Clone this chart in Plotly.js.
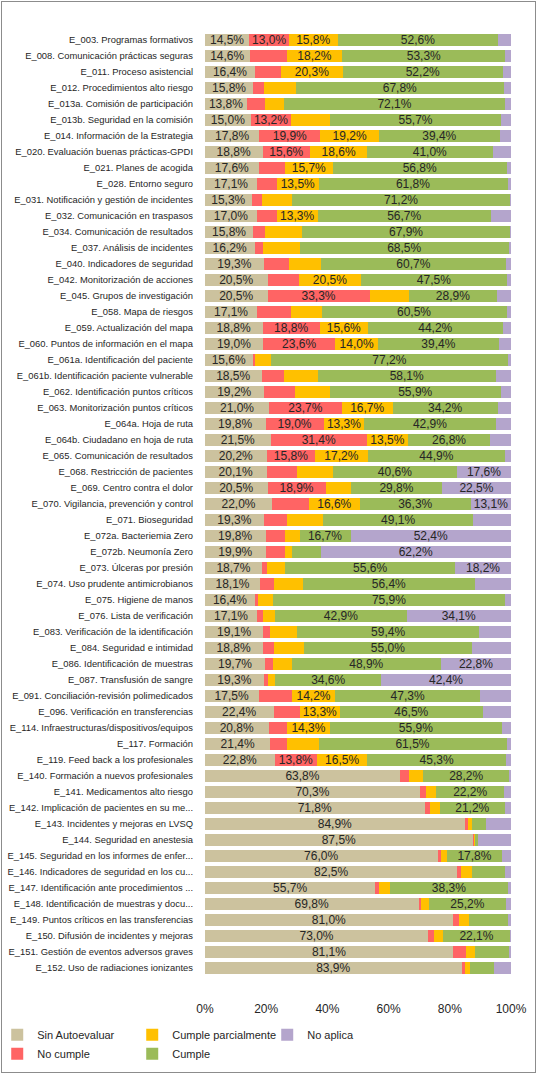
<!DOCTYPE html>
<html>
<head>
<meta charset="utf-8">
<script src="https://cdn.plot.ly/plotly-3.0.1.min.js"></script>
<style>
  body { margin: 0; background: #fff; }
  #wrap { position: relative; width: 537px; height: 1074px; }
  #plotly { width: 537px; height: 1074px; }
  #frame { position: absolute; left: 1px; top: 1px; width: 535px; height: 1072px;
           box-sizing: border-box; border: 1px solid #8c8c8c; pointer-events: none; }
</style>
</head>
<body>
<div id="wrap"><div id="plotly"></div><div id="frame"></div></div>
<script>
var categories = [
  "E_003. Programas formativos",
  "E_008. Comunicación prácticas seguras",
  "E_011. Proceso asistencial",
  "E_012. Procedimientos alto riesgo",
  "E_013a. Comisión de participación",
  "E_013b. Seguridad en la comisión",
  "E_014. Información de la Estrategia",
  "E_020. Evaluación buenas prácticas-GPDI",
  "E_021. Planes de acogida",
  "E_028. Entorno seguro",
  "E_031. Notificación y gestión de incidentes",
  "E_032. Comunicación en traspasos",
  "E_034. Comunicación de resultados",
  "E_037. Análisis de incidentes",
  "E_040. Indicadores de seguridad",
  "E_042. Monitorización de acciones",
  "E_045. Grupos de investigación",
  "E_058. Mapa de riesgos",
  "E_059. Actualización del mapa",
  "E_060. Puntos de información en el mapa",
  "E_061a. Identificación del paciente",
  "E_061b. Identificación paciente vulnerable",
  "E_062. Identificación puntos críticos",
  "E_063. Monitorización puntos críticos",
  "E_064a. Hoja de ruta",
  "E_064b. Ciudadano en hoja de ruta",
  "E_065. Comunicación de resultados",
  "E_068. Restricción de pacientes",
  "E_069. Centro contra el dolor",
  "E_070. Vigilancia, prevención y control",
  "E_071. Bioseguridad",
  "E_072a. Bacteriemia Zero",
  "E_072b. Neumonía Zero",
  "E_073. Úlceras por presión",
  "E_074. Uso prudente antimicrobianos",
  "E_075. Higiene de manos",
  "E_076. Lista de verificación",
  "E_083. Verificación de la identificación",
  "E_084. Seguridad e intimidad",
  "E_086. Identificación de muestras",
  "E_087. Transfusión de sangre",
  "E_091. Conciliación-revisión polimedicados",
  "E_096. Verificación en transferencias",
  "E_114. Infraestructuras/dispositivos/equipos",
  "E_117. Formación",
  "E_119. Feed back a los profesionales",
  "E_140. Formación a nuevos profesionales",
  "E_141. Medicamentos alto riesgo",
  "E_142. Implicación de pacientes en su me...",
  "E_143. Incidentes y mejoras en LVSQ",
  "E_144. Seguridad en anestesia",
  "E_145. Seguridad en los informes de enfer...",
  "E_146. Indicadores de seguridad en los cu...",
  "E_147. Identificación ante procedimientos ...",
  "E_148. Identificación de muestras y docu...",
  "E_149. Puntos críticos en las transferencias",
  "E_150. Difusión de incidentes y mejoras",
  "E_151. Gestión de eventos adversos graves",
  "E_152. Uso de radiaciones ionizantes"
];

// percentages per category
var sinAutoevaluar = [14.5,14.6,16.4,15.8,13.8,15.0,17.8,18.8,17.6,17.1,
  15.3,17.0,15.8,16.2,19.3,20.5,20.5,17.1,18.8,19.0,
  15.6,18.5,19.2,21.0,19.8,21.5,20.2,20.1,20.5,22.0,
  19.3,19.8,19.9,18.7,18.1,16.4,17.1,19.1,18.8,19.7,
  19.3,17.5,22.4,20.8,21.4,22.8,63.8,70.3,71.8,84.9,
  87.5,76.0,82.5,55.7,69.8,81.0,73.0,81.1,83.9];
var noCumple = [13.0,12.1,8.4,3.6,5.9,13.2,19.9,15.6,8.5,6.5,
  3.3,6.5,3.9,2.6,8.1,10.1,33.3,10.9,18.8,23.6,
  0.7,7.2,10.1,23.7,19.0,31.4,15.8,9.9,18.9,12.0,
  7.5,6.5,6.2,1.7,4.3,0.9,2.0,2.2,3.6,2.6,
  1.3,10.9,8.5,5.9,5.3,13.8,2.9,2.0,1.7,1.0,
  0.3,1.0,1.3,1.0,0.7,1.9,1.8,4.3,1.0];
var cumpleParcial = [15.8,18.2,20.3,10.4,6.2,12.8,19.2,18.6,15.7,13.5,
  9.9,13.3,12.1,12.1,10.4,20.5,12.8,10.1,15.6,14.0,
  5.4,11.2,11.5,16.7,13.3,13.5,17.2,11.8,8.3,16.6,
  11.8,4.6,2.4,5.8,9.5,4.9,3.9,8.9,9.9,6.0,
  2.4,14.2,13.3,14.3,10.4,16.5,4.6,3.3,3.3,1.2,
  0.3,2.2,3.6,3.9,2.7,3.3,2.9,2.9,1.6];
var cumple = [52.6,53.3,52.2,67.8,72.1,55.7,39.4,41.0,56.8,61.8,
  71.2,56.7,67.9,68.5,60.7,47.5,28.9,60.5,44.2,39.4,
  77.2,58.1,55.9,34.2,42.9,26.8,44.9,40.6,29.8,36.3,
  49.1,16.7,9.3,55.6,56.4,75.9,42.9,59.4,55.0,48.9,
  34.6,47.3,46.5,55.9,61.5,45.3,28.2,22.2,21.2,4.6,
  1.0,17.8,10.5,38.3,25.2,12.9,22.1,11.0,7.8];
var noAplica = [4.1,1.8,2.7,2.4,2.0,3.3,3.7,6.0,1.4,1.1,
  0.3,6.5,0.3,0.6,1.5,1.4,4.5,1.4,2.6,4.0,
  1.1,5.0,3.3,4.4,5.0,6.8,1.9,17.6,22.5,13.1,
  12.3,52.4,62.2,18.2,11.7,1.9,34.1,10.4,12.7,22.8,
  42.4,10.1,9.3,3.1,1.4,1.6,0.5,2.2,2.0,8.3,
  10.9,3.0,2.1,1.1,1.6,0.9,0.2,0.7,5.7];

var seriesNames = ['Sin Autoevaluar', 'No cumple', 'Cumple parcialmente', 'Cumple', 'No aplica'];
var seriesColors = ['#ccc29e', '#ff6464', '#ffc000', '#9bbb59', '#b4a5cc'];
var legendRanks = [1, 4, 2, 5, 3];

function labelOf(v) {
  // only segments of 13% or more carry a label
  return v >= 13 ? v.toFixed(1).replace('.', ',') + '%' : '';
}

function plotChart() {
  var all = [sinAutoevaluar, noCumple, cumpleParcial, cumple, noAplica];
  var traces = [];
  for (var i = 0; i < all.length; i++) {
    traces.push({
      type: 'bar',
      orientation: 'h',
      name: seriesNames[i],
      x: all[i],
      y: categories,
      text: all[i].map(labelOf),
      textposition: 'inside',
      insidetextanchor: 'middle',
      textangle: 0,
      textfont: {family: 'Liberation Sans, Arial, sans-serif', size: 12, color: '#262626'},
      marker: {color: seriesColors[i], line: {width: 0}},
      legendrank: legendRanks[i],
      hoverinfo: 'x+name'
    });
  }

  var layout = {
    width: 537, height: 1074,
    margin: {l: 205, r: 26, t: 32, b: 98, autoexpand: false},
    barmode: 'stack',
    bargap: 0.31,
    paper_bgcolor: '#ffffff',
    plot_bgcolor: '#ffffff',
    font: {family: 'Liberation Sans, Arial, sans-serif', color: '#262626'},
    uniformtext: {mode: 'show', minsize: 12},
    xaxis: {
      range: [0, 100], dtick: 20, ticksuffix: '%',
      showgrid: false, zeroline: false, showline: false,
      ticks: '', ticklabelstandoff: 24, automargin: false,
      tickfont: {size: 12, color: '#262626'},
      fixedrange: true
    },
    yaxis: {
      autorange: 'reversed', type: 'category',
      showgrid: false, zeroline: false, showline: false,
      ticks: '', ticklabelstandoff: 11, automargin: false,
      tickfont: {size: 9.4, color: '#262626'},
      fixedrange: true
    },
    showlegend: true,
    legend: {
      orientation: 'h', traceorder: 'normal',
      x: -0.679, xanchor: 'left', y: -0.047, yanchor: 'top',
      entrywidth: 90, entrywidthmode: 'pixels',
      font: {size: 11, color: '#262626'},
      bgcolor: 'rgba(0,0,0,0)'
    }
  };

  Plotly.newPlot('plotly', traces, layout, {displayModeBar: false, staticPlot: true});
}

plotChart();
</script>
</body>
</html>
